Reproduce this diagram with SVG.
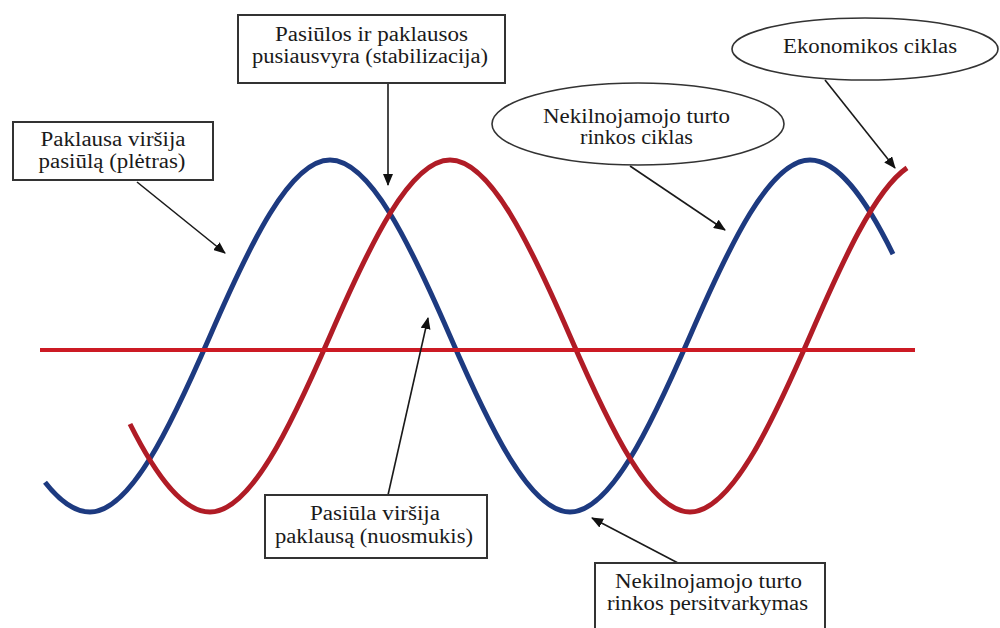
<svg xmlns="http://www.w3.org/2000/svg" width="1000" height="628" viewBox="0 0 1000 628">
<style>
.bg{fill:#fff}
.box{fill:#fff;stroke:#333;stroke-width:2}
.ell{fill:#fff;stroke:#333;stroke-width:1.6}
.lbl{font-family:"Liberation Serif","Times New Roman",serif;font-size:20px;fill:#1a1a1a;text-anchor:middle}
.conn{stroke:#1a1a1a;stroke-width:1.6;fill:none;marker-end:url(#ah)}
.blue{fill:none;stroke:#1d3a80;stroke-width:5}
.red{fill:none;stroke:#b01c26;stroke-width:5}
.axis{fill:none;stroke:#cc1a24;stroke-width:4}
</style>
<defs>
<marker id="ah" viewBox="0 0 12 10" refX="11" refY="5" markerWidth="12" markerHeight="10" markerUnits="userSpaceOnUse" orient="auto">
<path d="M0,0 L12,5 L0,10 Z" fill="#111"/>
</marker>
</defs>
<rect class="bg" x="0" y="0" width="1000" height="628"/>
<g id="curves">
<path id="real-estate-cycle" class="blue" d="M45,482.3 C60,501.5 75,512 90,512 C130,512 170,428.15 210,336 C250,243.85 290,160 330,160 C370,160 410,243.85 450,336 C490,428.15 530,512 570,512 C610,512 650,428.15 690,336 C730,243.85 770,160 810,160 C837.67,160 865.33,197.7 893,254.1"/>
<path id="economic-cycle" class="red" d="M130,424 C156.67,477.2 183.33,512 210,512 C250,512 290,428.15 330,336 C370,243.85 410,160 450,160 C490,160 530,243.85 570,336 C610,428.15 650,512 690,512 C730,512 770,428.15 810,336 C842.33,261.5 874.67,190 907,167.9"/>
<line id="equilibrium-line" class="axis" x1="40" y1="350" x2="915" y2="350"/>
</g>
<g id="connectors">
<line class="conn" x1="137" y1="182" x2="225" y2="253"/>
<line class="conn" x1="388" y1="83" x2="388" y2="185"/>
<line class="conn" x1="630" y1="166" x2="725" y2="230"/>
<line class="conn" x1="825" y1="80" x2="895" y2="168"/>
<line class="conn" x1="388" y1="495" x2="428" y2="318"/>
<line class="conn" x1="678" y1="563" x2="592" y2="518"/>
</g>
<g id="node-expansion">
<rect class="box" x="13" y="122" width="200" height="58"/>
<text class="lbl" x="113" y="146" textLength="145" lengthAdjust="spacingAndGlyphs">Paklausa viršija</text>
<text class="lbl" x="112" y="168" textLength="147" lengthAdjust="spacingAndGlyphs">pasiūlą (plėtras)</text>
</g>
<g id="node-equilibrium">
<rect class="box" x="238" y="15" width="267" height="68"/>
<text class="lbl" x="371.5" y="41" textLength="193" lengthAdjust="spacingAndGlyphs">Pasiūlos ir paklausos</text>
<text class="lbl" x="370" y="63" textLength="236" lengthAdjust="spacingAndGlyphs">pusiausvyra (stabilizacija)</text>
</g>
<g id="node-economic-cycle">
<ellipse class="ell" cx="865" cy="49" rx="133" ry="31"/>
<text class="lbl" x="870" y="53" textLength="174" lengthAdjust="spacingAndGlyphs">Ekonomikos ciklas</text>
</g>
<g id="node-real-estate-cycle">
<ellipse class="ell" cx="638" cy="124" rx="146" ry="41"/>
<text class="lbl" x="636.5" y="123" textLength="187" lengthAdjust="spacingAndGlyphs">Nekilnojamojo turto</text>
<text class="lbl" x="636.5" y="144" textLength="113" lengthAdjust="spacingAndGlyphs">rinkos ciklas</text>
</g>
<g id="node-recession">
<rect class="box" x="265" y="495" width="222" height="63"/>
<text class="lbl" x="375" y="520" textLength="130" lengthAdjust="spacingAndGlyphs">Pasiūla viršija</text>
<text class="lbl" x="374" y="543" textLength="198" lengthAdjust="spacingAndGlyphs">paklausą (nuosmukis)</text>
</g>
<g id="node-restructuring">
<rect class="box" x="595" y="563" width="230" height="72"/>
<text class="lbl" x="708.5" y="588" textLength="187" lengthAdjust="spacingAndGlyphs">Nekilnojamojo turto</text>
<text class="lbl" x="707.5" y="610" textLength="201" lengthAdjust="spacingAndGlyphs">rinkos persitvarkymas</text>
</g>
</svg>
